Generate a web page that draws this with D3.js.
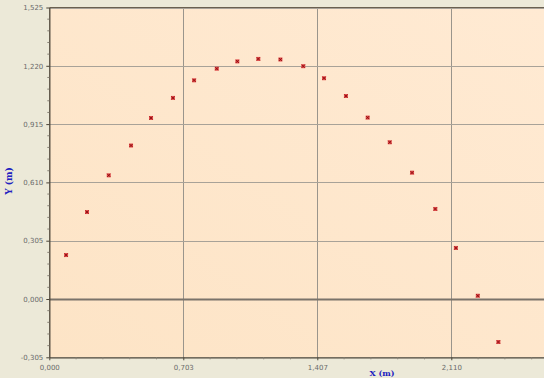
<!DOCTYPE html>
<html><head><meta charset="utf-8">
<script src="https://cdn.jsdelivr.net/npm/d3@7"></script>
<style>html,body{margin:0;padding:0;background:#ECE9D8;overflow:hidden}</style>
</head><body>
<svg id="c" width="544" height="378"></svg>
<script>
const xValues = [0.088,0.198,0.312,0.429,0.534,0.649,0.760,0.879,0.987,1.097,1.213,1.333,1.442,1.557,1.671,1.787,1.904,2.026,2.134,2.249,2.357];
const yValues = [0.230,0.455,0.647,0.803,0.947,1.052,1.144,1.205,1.243,1.256,1.253,1.218,1.155,1.062,0.949,0.820,0.661,0.471,0.267,0.017,-0.225];
const xTicks = [0, 0.7033, 1.4067, 2.11];
const xTickLabels = ["0,000","0,703","1,407","2,110"];
const yTicks = [-0.305, 0, 0.305, 0.61, 0.915, 1.22, 1.525];
const yTickLabels = ["-0,305","0,000","0,305","0,610","0,915","1,220","1,525"];

const svg = d3.select("#c");
const L = 49.3, T = 7.5, B = 357.3;
const x = d3.scaleLinear().domain([0, 2.8133]).range([L, L + 4*134]);
const y = d3.scaleLinear().domain([-0.305, 1.525]).range([B, T]);

const defs = svg.append("defs");
const g = defs.append("linearGradient").attr("id","bg").attr("x1","0").attr("y1","1").attr("x2","1").attr("y2","0");
g.append("stop").attr("offset","0").attr("stop-color","#FDE4C6");
g.append("stop").attr("offset","1").attr("stop-color","#FFEAD3");

svg.append("rect").attr("x",L).attr("y",T).attr("width",544-L).attr("height",B-T).attr("fill","url(#bg)");

// grid
svg.append("g").selectAll("line").data(xTicks.slice(1)).join("line")
  .attr("x1",d=>Math.round(x(d))+0.5).attr("x2",d=>Math.round(x(d))+0.5)
  .attr("y1",T).attr("y2",B).attr("stroke","#9A958C").attr("stroke-width",1);
svg.append("g").selectAll("line").data(yTicks.filter(d=>d!==-0.305)).join("line")
  .attr("x1",L).attr("x2",544)
  .attr("y1",d=>Math.round(y(d))+0.5).attr("y2",d=>Math.round(y(d))+0.5)
  .attr("stroke",d=>d===0?"#7A736A":"#A8A298").attr("stroke-width",d=>d===0?2:1);

// axes
const xAxis = d3.axisBottom(x).tickValues(xTicks).tickFormat((d,i)=>xTickLabels[i]).tickSize(3).tickSizeOuter(0);
const yAxis = d3.axisLeft(y).tickValues(yTicks).tickFormat((d,i)=>yTickLabels[i]).tickSize(3).tickSizeOuter(0);
const xa = svg.append("g").attr("transform",`translate(0,${B})`).call(xAxis);
const ya = svg.append("g").attr("transform",`translate(${L},0)`).call(yAxis);
[xa,ya].forEach(a=>{
  a.select(".domain").attr("stroke","#4A4438").attr("stroke-width",1.3);
  a.selectAll(".tick line").attr("stroke","#4A4438");
  a.selectAll("text").attr("fill","#6A6A6A").style("font-family","Tahoma, 'DejaVu Sans', sans-serif").style("font-size","7px");
});
xa.selectAll("text").attr("dy","0.9em");
// minor ticks
const xMinor = d3.range(0, 2.8133, 0.7033/5).filter((d,i)=>i%5!==0);
svg.append("g").selectAll("line").data(xMinor).join("line")
  .attr("x1",d=>x(d)).attr("x2",d=>x(d)).attr("y1",B).attr("y2",B+2).attr("stroke","#8A8478");
const yMinor = d3.range(-0.305, 1.525, 0.061).filter((d,i)=>i%5!==0);
svg.append("g").selectAll("line").data(yMinor).join("line")
  .attr("x1",L-2).attr("x2",L).attr("y1",d=>y(d)).attr("y2",d=>y(d)).attr("stroke","#8A8478");

// top border
svg.append("line").attr("x1",L).attr("x2",544).attr("y1",T).attr("y2",T).attr("stroke","#6A6050").attr("stroke-width",1);

// points
const pts = svg.append("g").selectAll("g").data(xValues.map((d,i)=>[d,yValues[i]])).join("g")
  .attr("transform",d=>`translate(${x(d[0])},${y(d[1])})`);
pts.append("rect").attr("x",-2).attr("y",-2).attr("width",4).attr("height",4).attr("fill","#E04848");
pts.append("path").attr("d","M-1.5,-1.5L1.5,1.5M-1.5,1.5L1.5,-1.5").attr("stroke","#8A1010").attr("stroke-width",0.9);

// labels
svg.append("text").attr("x",382).attr("y",376).attr("text-anchor","middle")
  .attr("fill","#2020C0").style("font-family","'DejaVu Serif', serif").style("font-weight","bold").style("font-size","8px").text("X (m)");
svg.append("text").attr("transform","translate(12,181) rotate(-90)").attr("text-anchor","middle")
  .attr("fill","#2020C0").style("font-family","'DejaVu Serif', serif").style("font-weight","bold").style("font-size","9px").text("Y (m)");
</script>
</body></html>
